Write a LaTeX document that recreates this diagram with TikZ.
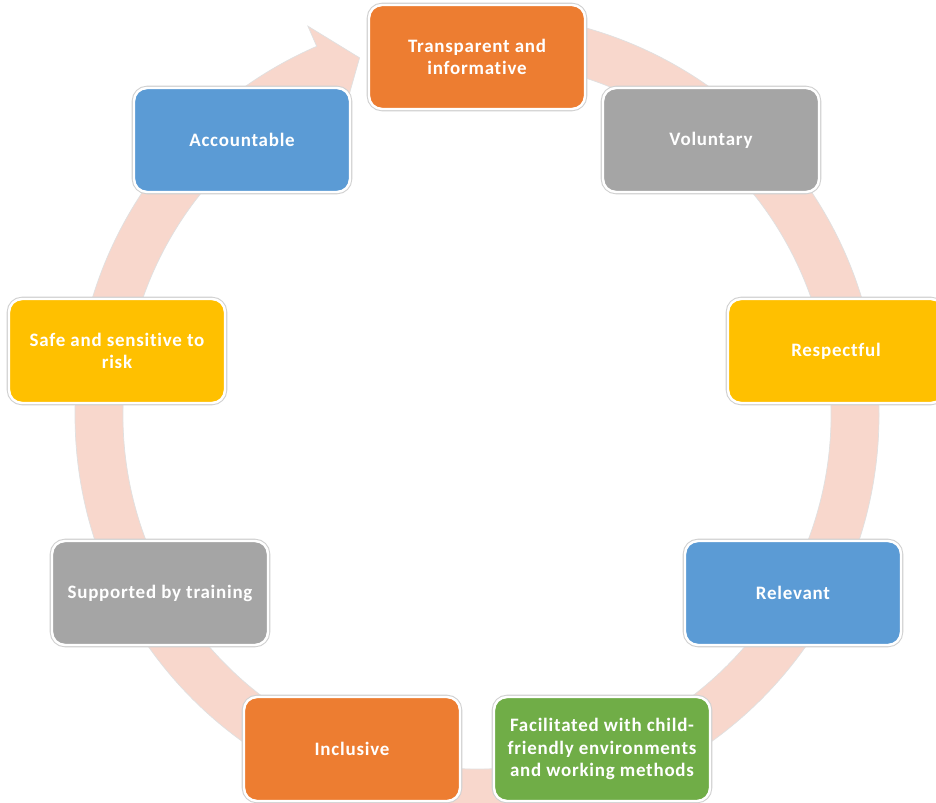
\documentclass[tikz,border=0pt]{standalone}
\usepackage{fontspec}
\setmainfont{Carlito}[LetterSpace=4, Ligatures={NoCommon}]
\definecolor{cOrange}{HTML}{ED7D31}
\definecolor{cGray}{HTML}{A5A5A5}
\definecolor{cYellow}{HTML}{FFC000}
\definecolor{cBlue}{HTML}{5B9BD5}
\definecolor{cGreen}{HTML}{70AD47}
\definecolor{cRing}{HTML}{F8D7CC}
\begin{document}
\begin{tikzpicture}[x=0.02cm,y=0.02cm,
  box/.style={rectangle, rounded corners=0.26cm, minimum width=216*0.02cm, minimum height=104*0.02cm,
    inner sep=0pt, align=center, text=white, font=\fontsize{10.8}{12.8}\selectfont\bfseries,
    draw=white, line width=1.4pt, preaction={draw=black!18, line width=2.6pt}},
  ring/.style={fill=cRing, draw=black!12, line width=0.4pt}]
\useasboundingbox (0,0) rectangle (936,802);
\fill[white] (0,0) rectangle (936,802);
% ring with arrow
\begin{scope}[shift={(477,387)}]
  \path[ring] (90:402) arc[start angle=90, end angle=-246.5, radius=402]
    -- (113.5:424) -- (108.2:376) -- (113.5:332) -- (113.5:354)
    arc[start angle=-246.5, end angle=90, radius=354] -- cycle;
\end{scope}
% boxes
\node[box, fill=cOrange] (transparent) at (477,745) {Transparent and\\informative};
\node[box, fill=cGray]   (voluntary)   at (711,662) {Voluntary};
\node[box, fill=cYellow] (respectful)  at (836,451) {Respectful};
\node[box, fill=cBlue]   (relevant)    at (793,209) {Relevant};
\node[box, fill=cGreen]  (facilitated) at (602,53)  {Facilitated with child-\\friendly environments\\and working methods};
\node[box, fill=cOrange] (inclusive)   at (352,53)  {Inclusive};
\node[box, fill=cGray]   (supported)   at (160,209) {Supported by training};
\node[box, fill=cYellow] (safe)        at (117,451) {Safe and sensitive to\\risk};
\node[box, fill=cBlue]   (accountable) at (242,662) {Accountable};
\end{tikzpicture}
\end{document}
